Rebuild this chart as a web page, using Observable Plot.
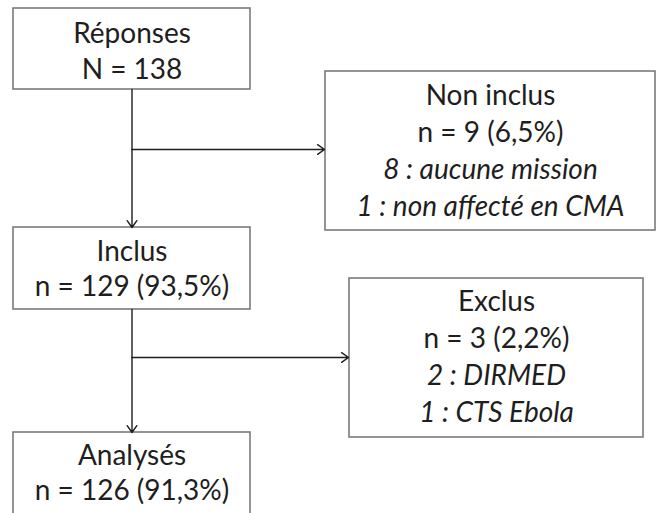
<!DOCTYPE html>
<html>
<head>
<meta charset="utf-8">
<script src="https://cdn.jsdelivr.net/npm/d3@7"></script>
<script src="https://cdn.jsdelivr.net/npm/@observablehq/plot@0.6"></script>
<style>
  html, body { margin: 0; padding: 0; background: #fff; overflow: hidden; }
</style>
</head>
<body>
<div id="chart"></div>
<script>
// ---- Data ----
const stageLabels = ["Réponses", "Inclus", "Analysés"];
const stageCounts = [138, 129, 126];
const sideLabels = ["Non inclus", "Exclus"];
const sideCounts = [9, 3];
const sideReasons = [
  ["8 : aucune mission", "1 : non affecté en CMA"],
  ["2 : DIRMED", "1 : CTS Ebola"]
];

// ---- Layout (chart units, same as pixels) ----
const W = 656, H = 513;
const stageBoxes = [
  {x1: 13, x2: 250, y1: 8, y2: 89},
  {x1: 13, x2: 250, y1: 227, y2: 309},
  {x1: 13, x2: 250, y1: 432, y2: 530}
];
const sideBoxes = [
  {x1: 325, x2: 655, y1: 71, y2: 230},
  {x1: 349, x2: 643, y1: 278, y2: 437}
];
const spineX = 131.5;
const branchY = [149, 357];
const firstBaseline = {stage: [42, 260, 464], side: [104, 310]};
const lineStep = 37;
const fs = 28;

const total = stageCounts[0];
const pct = n => (Math.round(n / total * 1000) / 10).toFixed(1).replace(".", ",") + "%";

// Build text lines
const lines = [];
stageLabels.forEach((lab, i) => {
  const b0 = firstBaseline.stage[i];
  const step = i === 0 ? 36 : 35;
  lines.push({x: spineX, b: b0, text: lab, italic: false});
  lines.push({x: spineX, b: b0 + step,
    text: i === 0 ? `N = ${stageCounts[i]}` : `n = ${stageCounts[i]} (${pct(stageCounts[i])})`, italic: false});
});
sideLabels.forEach((lab, i) => {
  const bx = (sideBoxes[i].x1 + sideBoxes[i].x2) / 2;
  const b0 = firstBaseline.side[i];
  lines.push({x: bx, b: b0, text: lab, italic: false});
  lines.push({x: bx, b: b0 + lineStep, text: `n = ${sideCounts[i]} (${pct(sideCounts[i])})`, italic: false});
  sideReasons[i].forEach((r, j) => {
    lines.push({x: bx, b: b0 + lineStep * (j + 2), text: r, italic: true});
  });
});
lines.forEach(d => d.y = d.b - 0.32 * fs);

const arrows = [
  {x1: spineX, y1: stageBoxes[0].y2, x2: spineX, y2: stageBoxes[1].y1},
  {x1: spineX, y1: stageBoxes[1].y2, x2: spineX, y2: stageBoxes[2].y1},
  {x1: spineX, y1: branchY[0], x2: sideBoxes[0].x1 - 1, y2: branchY[0]},
  {x1: spineX, y1: branchY[1], x2: sideBoxes[1].x1 - 1, y2: branchY[1]}
];

const chart = Plot.plot({
  width: W,
  height: H,
  margin: 0,
  x: {domain: [0, W], axis: null},
  y: {domain: [0, H], axis: null, reverse: true},
  style: {fontFamily: "Lato, 'Open Sans', sans-serif", fontSize: fs + "px", background: "#fff", color: "#1e1e1e"},
  marks: [
    Plot.rect([...stageBoxes, ...sideBoxes], {
      x1: "x1", x2: "x2", y1: "y1", y2: "y2",
      fill: "white", stroke: "#7a7a7a", strokeWidth: 1.6, clip: true
    }),
    Plot.arrow(arrows, {
      x1: "x1", y1: "y1", x2: "x2", y2: "y2",
      stroke: "#1e1e1e", strokeWidth: 1.4, headLength: 9, headAngle: 70
    }),
    Plot.text(lines.filter(d => !d.italic), {
      x: "x", y: "y", text: "text", fill: "#1e1e1e", fontSize: fs, lineAnchor: "middle"
    }),
    Plot.text(lines.filter(d => d.italic), {
      x: "x", y: "y", text: "text", fill: "#1e1e1e", fontSize: fs, fontStyle: "italic", lineAnchor: "middle"
    })
  ]
});
document.getElementById("chart").appendChild(chart);
</script>
</body>
</html>
